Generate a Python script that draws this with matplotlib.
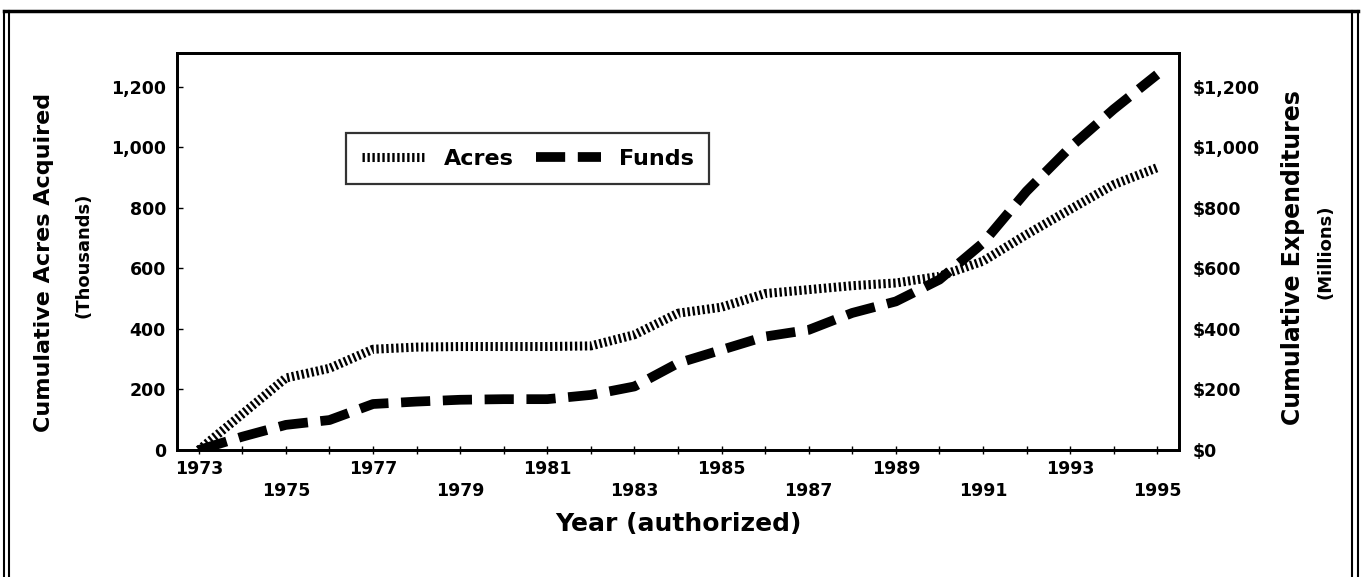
import matplotlib
matplotlib.use("Agg")
import matplotlib.pyplot as plt
from matplotlib.lines import Line2D
from matplotlib.ticker import FuncFormatter, FixedLocator

plt.rcParams['font.family'] = ['DejaVu Sans']
plt.rcParams['font.weight'] = 'bold'

years = [1973, 1974, 1975, 1976, 1977, 1978, 1979, 1980, 1981, 1982, 1983, 1984,
         1985, 1986, 1987, 1988, 1989, 1990, 1991, 1992, 1993, 1994, 1995]
# cumulative acres, thousands
acres = [0, 119, 238, 270, 333, 340, 342, 342, 342, 344, 381, 452,
         472, 517, 530, 543, 552, 574, 624, 712, 795, 877, 933]
# cumulative expenditures, millions of dollars
funds = [0, 44, 83, 99, 152, 160, 166, 168, 168, 182, 210, 287,
         331, 375, 397, 453, 491, 563, 684, 855, 1000, 1126, 1241]
label_years = [1973, 1975, 1977, 1979, 1981, 1983, 1985, 1987, 1989, 1991, 1993, 1995]
y_ticks = [0, 200, 400, 600, 800, 1000, 1200]

W, H = 1363, 577
fig = plt.figure(figsize=(W / 100, H / 100), dpi=100)
ax = fig.add_axes([177 / W, 1 - 450 / H, (1179 - 177) / W, (450 - 53) / H])

ax.plot(years, acres, color='black', linewidth=6.5, dashes=(0.26, 0.29),
        dash_capstyle='butt', label='Acres')
ax.plot(years, funds, color='black', linewidth=7, dashes=(3.0, 1.3),
        dash_capstyle='butt', label='Funds')

ax.set_xlim(1972.5, 1995.5)
ax.set_ylim(0, 1312)

for s in ax.spines.values():
    s.set_linewidth(2)

# staggered year labels like the original
ax.xaxis.set_major_locator(FixedLocator(label_years))
ax.set_xticklabels([str(y) if i % 2 == 0 else '\n' + str(y) for i, y in enumerate(label_years)],
                   fontsize=12.5, fontweight='bold', linespacing=1.3)
ax.xaxis.set_minor_locator(FixedLocator(years))
ax.tick_params(axis='x', which='both', direction='inout', length=6, width=1, pad=4)

ax.set_yticks(y_ticks)
ax.yaxis.set_major_formatter(FuncFormatter(lambda v, p: f"{int(v):,}"))
ax.tick_params(axis='y', direction='in', length=4, width=1, labelsize=12.5, pad=8)
for t in ax.get_yticklabels():
    t.set_fontweight('bold')

ax2 = ax.twinx()
ax2.set_ylim(ax.get_ylim())
ax2.set_yticks(y_ticks)
ax2.yaxis.set_major_formatter(FuncFormatter(lambda v, p: f"${int(v):,}"))
ax2.tick_params(axis='y', direction='in', length=0, labelsize=12.5, pad=10)
for t in ax2.get_yticklabels():
    t.set_fontweight('bold')
for s in ax2.spines.values():
    s.set_linewidth(2)

ax.set_xlabel('Year (authorized)', fontsize=18, fontweight='bold', labelpad=9)

fig.text(44 / W, 1 - 262 / H, 'Cumulative Acres Acquired', rotation=90,
         ha='center', va='center', fontsize=16, fontweight='bold')
fig.text(84 / W, 1 - 255 / H, '(Thousands)', rotation=90,
         ha='center', va='center', fontsize=13, fontweight='bold')
fig.text(1293 / W, 1 - 258 / H, 'Cumulative Expenditures', rotation=90,
         ha='center', va='center', fontsize=17, fontweight='bold')
fig.text(1325 / W, 1 - 252 / H, '(Millions)', rotation=90,
         ha='center', va='center', fontsize=13, fontweight='bold')

leg = ax.legend(loc='center', bbox_to_anchor=(0.350, 0.734), ncol=2, fontsize=16,
                frameon=True, fancybox=False, handlelength=2.9, columnspacing=1.0,
                handletextpad=0.8, borderpad=0.7)
leg.get_frame().set_edgecolor('black')
leg.get_frame().set_linewidth(1.6)
for t in leg.get_texts():
    t.set_fontweight('bold')

# outer double frame of the scanned figure
def fline(x0, y0, x1, y1, lw):
    fig.add_artist(Line2D([x0 / W, x1 / W], [1 - y0 / H, 1 - y1 / H],
                          transform=fig.transFigure, color='black', linewidth=lw))

fline(4, 11, 4, H, 1.5)
fline(9, 11, 9, H, 1.5)
fline(1352, 11, 1352, H, 1.5)
fline(1358, 11, 1358, H, 1.5)
fline(4, 11, 1358, 11, 2.5)

fig.savefig('out.png', dpi=100)
